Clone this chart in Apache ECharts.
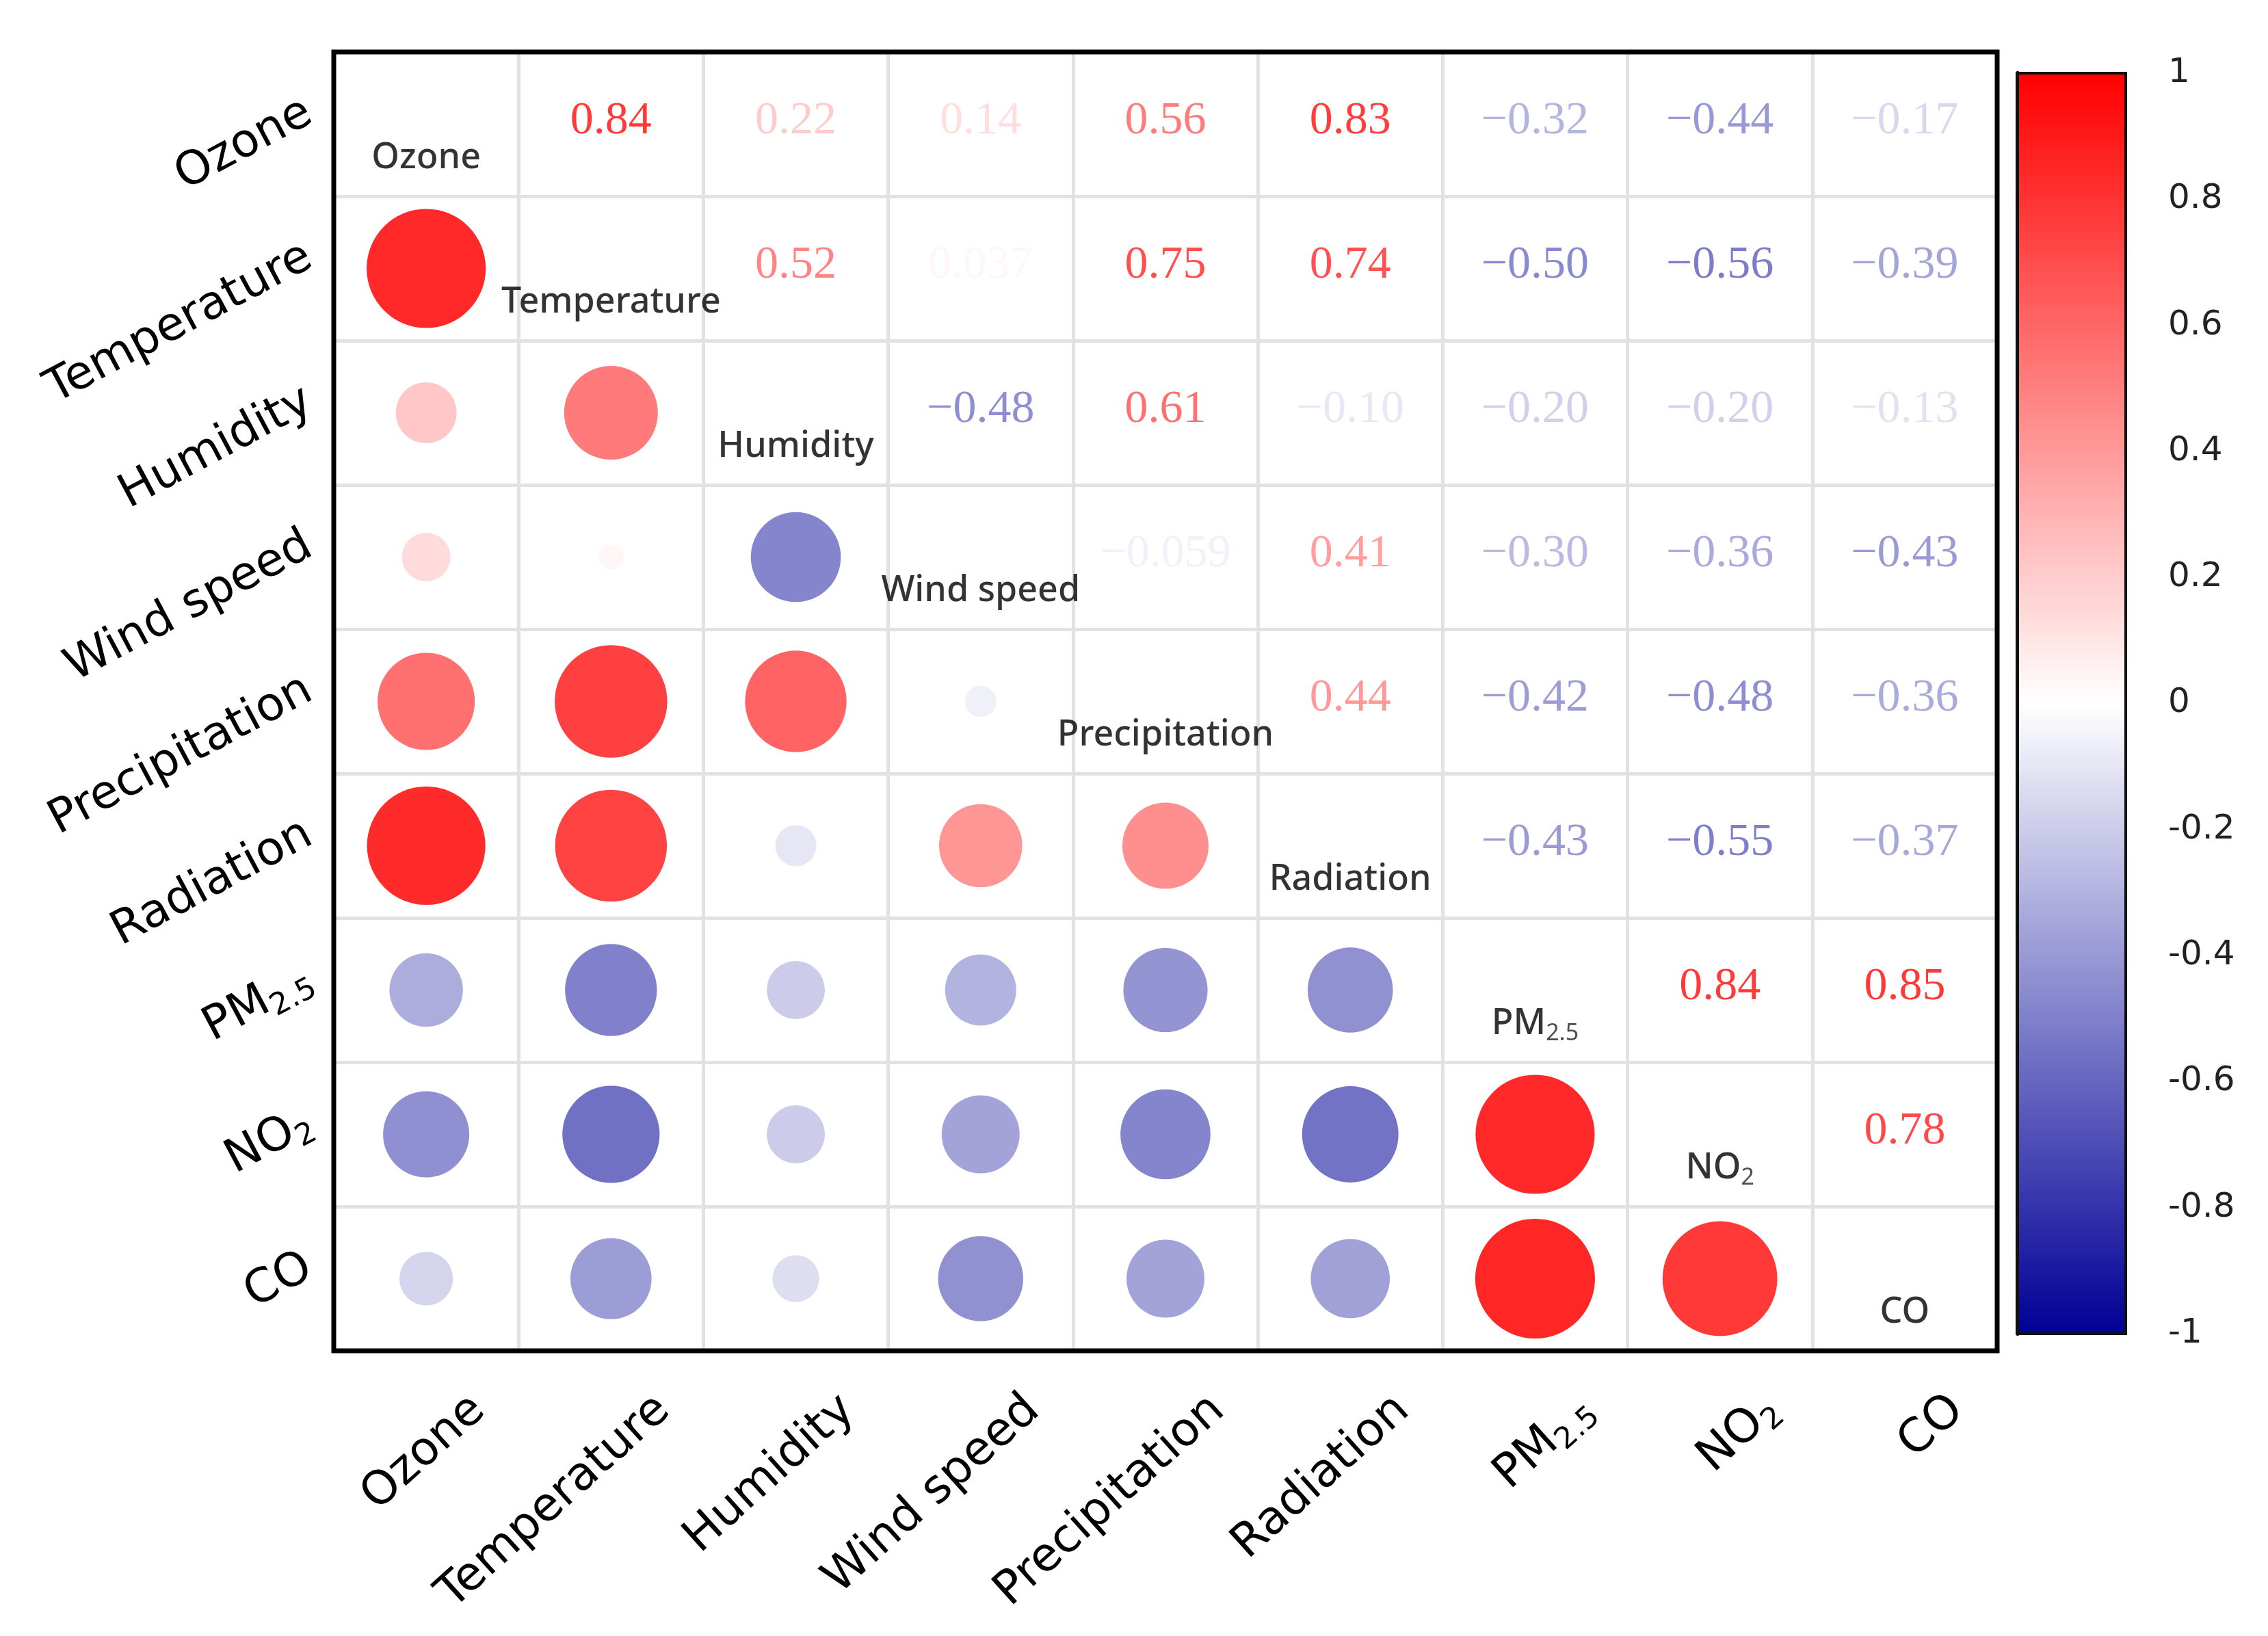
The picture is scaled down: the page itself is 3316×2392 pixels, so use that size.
<!DOCTYPE html>
<html>
<head>
<meta charset="utf-8">
<script src="https://cdn.jsdelivr.net/npm/echarts@6/dist/echarts.min.js"></script>
<style>
html,body{margin:0;padding:0;background:#fff;}
#chart{width:3316px;height:2392px;}
</style>
</head>
<body>
<div id="chart"></div>
<script>
// ---- data ----
const categories = ['Ozone', 'Temperature', 'Humidity', 'Wind speed', 'Precipitation', 'Radiation', 'PM2.5', 'NO2', 'CO'];
const rowOzone        = [1, 0.84, 0.22, 0.14, 0.56, 0.83, -0.32, -0.44, -0.17];
const rowTemperature  = [0.84, 1, 0.52, 0.037, 0.75, 0.74, -0.50, -0.56, -0.39];
const rowHumidity     = [0.22, 0.52, 1, -0.48, 0.61, -0.10, -0.20, -0.20, -0.13];
const rowWindSpeed    = [0.14, 0.037, -0.48, 1, -0.059, 0.41, -0.30, -0.36, -0.43];
const rowPrecipitation= [0.56, 0.75, 0.61, -0.059, 1, 0.44, -0.42, -0.48, -0.36];
const rowRadiation    = [0.83, 0.74, -0.10, 0.41, 0.44, 1, -0.43, -0.55, -0.37];
const rowPM25         = [-0.32, -0.50, -0.20, -0.30, -0.42, -0.43, 1, 0.84, 0.85];
const rowNO2          = [-0.44, -0.56, -0.20, -0.36, -0.48, -0.55, 0.84, 1, 0.78];
const rowCO           = [-0.17, -0.39, -0.13, -0.43, -0.36, -0.37, 0.85, 0.78, 1];
const colorbarMin = -1, colorbarMax = 1, colorbarStep = 0.2;

const rows = [rowOzone, rowTemperature, rowHumidity, rowWindSpeed, rowPrecipitation, rowRadiation, rowPM25, rowNO2, rowCO];

// ---- colour scale ----
const stops = [[0, 0, 150], [255, 255, 255], [255, 0, 0]];
function colorFor(v) {
  let a, b, t;
  if (v < 0) { a = stops[0]; b = stops[1]; t = v + 1; }
  else { a = stops[1]; b = stops[2]; t = v; }
  const c = a.map((x, i) => Math.round(x + (b[i] - x) * t));
  return 'rgb(' + c.join(',') + ')';
}
function textColorFor(v) {
  // slightly stronger tint for the printed coefficients
  const w = Math.max(-1, Math.min(1, v * 1.15));
  return colorFor(w);
}
function fmt(v) {
  const s = Math.abs(v).toPrecision(2);
  return (v < 0 ? '\u2212' : '') + s;
}
function richName(name) {
  if (name === 'PM2.5') return '{n|PM}{s|2.5}';
  if (name === 'NO2') return '{n|NO}{s|2}';
  return '{n|' + name + '}';
}

const circleData = [], textData = [], diagData = [];
rows.forEach((row, i) => {
  row.forEach((v, j) => {
    if (i > j) circleData.push([j, i, v]);
    else if (j > i) textData.push({ value: [j, i, v], label: { color: textColorFor(v) } });
    else diagData.push([j, i, v]);
  });
});

const axisRich = {
  n: { fontFamily: 'DejaVu Sans', fontSize: 68, color: '#000', lineHeight: 80 },
  s: { fontFamily: 'DejaVu Sans', fontSize: 44, color: '#000', lineHeight: 40, verticalAlign: 'bottom' }
};
const diagRich = {
  n: { fontFamily: 'Noto Sans', fontSize: 52, color: '#000', lineHeight: 62, fontWeight: 500 },
  s: { fontFamily: 'Noto Sans', fontSize: 34, color: '#222', lineHeight: 30, verticalAlign: 'bottom' }
};

const chart = echarts.init(document.getElementById('chart'), null, { renderer: 'canvas' });
chart.setOption({
  animation: false,
  backgroundColor: '#fff',
  grid: [
    { left: 488, top: 76, width: 2432, height: 1899, show: true, borderColor: '#000', borderWidth: 7, backgroundColor: 'transparent', z: 3 },
    { left: 2950, top: 107, width: 158, height: 1843, show: true, borderColor: '#111', borderWidth: 4, backgroundColor: 'transparent', z: 10 }
  ],
  xAxis: [
    {
      type: 'category', data: categories, gridIndex: 0, position: 'bottom',
      axisLine: { show: false }, axisTick: { show: false },
      splitLine: { show: true, interval: 0, lineStyle: { color: '#e2e2e2', width: 5 } },
      axisLabel: {
        interval: 0, rotate: 42, margin: -8, align: 'right', verticalAlign: 'top',
        padding: [75, 0, 0, 0],
        formatter: richName, rich: axisRich
      }
    },
    { type: 'value', gridIndex: 1, show: false, min: 0, max: 1 }
  ],
  yAxis: [
    {
      type: 'category', data: categories, gridIndex: 0, inverse: true,
      axisLine: { show: false }, axisTick: { show: false },
      splitLine: { show: true, interval: 0, lineStyle: { color: '#e2e2e2', width: 5 } },
      axisLabel: {
        interval: 0, rotate: 28, margin: 25, align: 'right', verticalAlign: 'middle',
        padding: [0, 0, 46, 0],
        formatter: richName, rich: axisRich
      }
    },
    {
      type: 'value', gridIndex: 1, position: 'right', min: colorbarMin, max: colorbarMax, interval: colorbarStep,
      axisLine: { show: true, lineStyle: { color: '#000', width: 6 } },
      axisTick: { show: true, inside: false, length: 37, lineStyle: { color: '#666', width: 3 } },
      splitLine: { show: false },
      axisLabel: {
        margin: 62, fontFamily: 'DejaVu Sans', fontSize: 50, color: '#222',
        formatter: v => { const r = Math.round(v * 10) / 10; return r === 0 ? '0' : (r < 0 ? '-' : '') + Math.abs(r); }
      }
    }
  ],
  visualMap: {
    type: 'continuous', min: colorbarMin, max: colorbarMax, dimension: 2, seriesIndex: 0,
    calculable: false, hoverLink: false, realtime: false,
    left: 2950, top: 107, itemWidth: 158, itemHeight: 1843, padding: 0,
    text: null, showLabel: false,
    inRange: { color: stops.map(c => 'rgb(' + c.join(',') + ')') },
    z: 4
  },
  series: [
    {
      type: 'scatter', xAxisIndex: 0, yAxisIndex: 0, data: circleData,
      symbol: 'circle',
      symbolSize: val => 190 * Math.sqrt(Math.abs(val[2])),
      itemStyle: { opacity: 1 },
      emphasis: { disabled: true }
    },
    {
      type: 'scatter', xAxisIndex: 0, yAxisIndex: 0, data: textData,
      symbolSize: 1, itemStyle: { color: 'rgba(0,0,0,0)' },
      label: {
        show: true, position: 'inside', offset: [0, -4],
        fontFamily: 'Liberation Serif', fontSize: 68,
        formatter: p => fmt(p.value[2])
      },
      emphasis: { disabled: true }
    },
    {
      type: 'scatter', xAxisIndex: 0, yAxisIndex: 0, data: diagData,
      symbolSize: 1, itemStyle: { color: 'rgba(0,0,0,0)' },
      label: {
        show: true, position: 'inside', offset: [0, 50],
        formatter: p => richName(categories[p.value[0]]), rich: diagRich
      },
      emphasis: { disabled: true }
    }
  ]
});
</script>
</body>
</html>
